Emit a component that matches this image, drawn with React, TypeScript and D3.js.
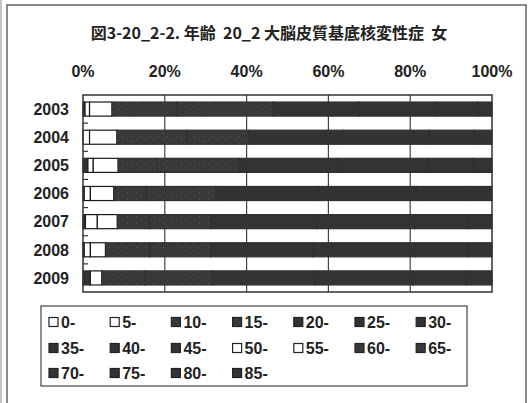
import React from "react";
import * as d3 from "d3";

const title = "図3-20_2-2. 年齢  20_2 大脳皮質基底核変性症  女";
const years = ["2003", "2004", "2005", "2006", "2007", "2008", "2009"];
const ageGroups = ["0-", "5-", "10-", "15-", "20-", "25-", "30-", "35-", "40-", "45-", "50-", "55-", "60-", "65-", "70-", "75-", "80-", "85-"];
const xTicks = [0, 0.2, 0.4, 0.6, 0.8, 1];

// percentage share per age group, one array per year (same order as ageGroups)
const v2003 = [0, 0, 0, 0, 0, 0, 0, 0, 0, 0.5, 1.1, 5.5, 15.9, 23.5, 21, 19, 10, 3.5];
const v2004 = [0, 0, 0, 0, 0, 0, 0, 0, 0, 0, 1.6, 6.7, 17.1, 15.2, 23, 21, 11, 4.4];
const v2005 = [0, 0, 0, 0, 0, 0, 0, 0, 0, 1.2, 1.3, 6.1, 9.4, 20.3, 24, 22, 11, 4.7];
const v2006 = [0, 0, 0, 0, 0, 0, 0, 0, 0, 0.3, 1.5, 5.7, 7.9, 17.1, 25, 24, 13, 5.5];
const v2007 = [0, 0, 0, 0, 0, 0, 0, 0, 0, 0.6, 2.9, 4.9, 7.9, 14.9, 26, 24, 13, 5.8];
const v2008 = [0, 0, 0, 0, 0, 0, 0, 0, 0, 0.3, 1.5, 3.7, 10.8, 14.9, 25, 25, 13, 5.8];
const v2009 = [0, 0, 0, 0, 0, 0, 0, 0, 0, 1.8, 0, 2.8, 10.5, 16.6, 25, 24, 13, 6.3];
const seriesByYear = [v2003, v2004, v2005, v2006, v2007, v2008, v2009];

// fill kind per age group: w = white, p = patterned dark, d = solid dark
const fillKinds = ["w", "w", "p", "p", "d", "d", "d", "d", "d", "d", "w", "w", "p", "p", "d", "d", "d", "d"];

const W = 528;
const H = 403;
const plot = { left: 83, right: 492, top: 95, bottom: 292 };

function fillFor(kind: string) {
  if (kind === "w") return "#ffffff";
  if (kind === "p") return "url(#speck)";
  return "#333333";
}
function strokeFor(kind: string) {
  return kind === "w" ? "#1a1a1a" : "#303030";
}

export default function App() {
  const rows = years.map((y, i) => {
    const o: any = { year: y };
    ageGroups.forEach((g, j) => (o[g] = seriesByYear[i][j]));
    return o;
  });
  const stack = d3.stack<any>().keys(ageGroups).offset(d3.stackOffsetExpand);
  const layers = stack(rows);

  const x = d3.scaleLinear().domain([0, 1]).range([plot.left, plot.right]);
  const y = d3.scaleBand<string>().domain(years).range([plot.top, plot.bottom]).paddingInner(0.5).paddingOuter(0.25);
  const step = y.step();

  const legendCols = 7;
  const legX0 = 49;
  const legColW = 61.2;
  const legRowY = [322, 348, 373];

  const numFont = "'Liberation Sans', Arial, sans-serif";

  return (
    <svg width={W} height={H} style={{ position: "absolute", left: 0, top: 0 }} xmlns="http://www.w3.org/2000/svg">
      <defs>
        <pattern id="speck" width="9" height="6" patternUnits="userSpaceOnUse">
          <rect width="9" height="6" fill="#383838" />
          <rect x="1" y="1" width="1" height="1" fill="#565656" />
          <rect x="5" y="4" width="1" height="1" fill="#4e4e4e" />
        </pattern>
      </defs>
      <rect x={0} y={0} width={W} height={H} fill="#fff" />
      {/* outer frame */}
      <line x1={1} y1={0} x2={1} y2={H} stroke="#888" strokeWidth={1} />
      <rect x={7} y={5} width={519} height={410} fill="none" stroke="#666" strokeWidth={1.5} />

      {/* title */}
      <text x={269} y={39} textAnchor="middle" fontFamily="'Noto Sans CJK JP', sans-serif" fontWeight="bold" fontSize={16} fill="#222" style={{ whiteSpace: "pre" }}>
        {title}
      </text>

      {/* top axis labels */}
      {xTicks.map((t) => (
        <text key={t} x={x(t)} y={77} textAnchor="middle" fontFamily={numFont} fontWeight="bold" fontSize={16} fill="#222">
          {d3.format(".0%")(t)}
        </text>
      ))}

      {/* plot background */}
      <rect x={plot.left} y={plot.top} width={plot.right - plot.left} height={plot.bottom - plot.top} fill="#fff" />
      {/* gridlines */}
      {xTicks.slice(1, -1).map((t) => (
        <line key={t} x1={x(t)} x2={x(t)} y1={plot.top} y2={plot.bottom} stroke="#444" strokeWidth={1.2} />
      ))}

      {/* bars */}
      {layers.map((layer, li) => (
        <g key={layer.key}>
          {layer.map((d: any, i: number) => {
            const w = x(d[1]) - x(d[0]);
            if (w <= 0) return null;
            return (
              <rect
                key={i}
                x={x(d[0])}
                y={y(years[i])}
                width={w}
                height={y.bandwidth()}
                fill={fillFor(fillKinds[li])}
                stroke={strokeFor(fillKinds[li])}
                strokeWidth={1.2}
              />
            );
          })}
        </g>
      ))}

      {/* plot border */}
      <rect x={plot.left} y={plot.top} width={plot.right - plot.left} height={plot.bottom - plot.top} fill="none" stroke="#333" strokeWidth={1.5} />
      {/* category ticks (inside) */}
      {years.slice(1).map((yr) => {
        const yy = (y(yr) as number) - step * 0.25;
        return <line key={yr} x1={plot.left} x2={plot.left + 5} y1={yy} y2={yy} stroke="#333" strokeWidth={1.2} />;
      })}

      {/* year labels */}
      {years.map((yr) => (
        <text key={yr} x={69} y={(y(yr) as number) + y.bandwidth() / 2} dy="0.36em" textAnchor="end" fontFamily={numFont} fontWeight="bold" fontSize={16} fill="#222">
          {yr}
        </text>
      ))}

      {/* legend */}
      <rect x={41} y={306} width={426} height={80} fill="#fff" stroke="#444" strokeWidth={1.2} />
      {ageGroups.map((g, i) => {
        const col = i % legendCols;
        const row = Math.floor(i / legendCols);
        const lx = legX0 + col * legColW;
        const ly = legRowY[row];
        return (
          <g key={g}>
            <rect x={lx} y={ly - 4.5} width={9} height={9} fill={fillFor(fillKinds[i])} stroke="#222" strokeWidth={1.2} />
            <text x={lx + 12} y={ly} dy="0.36em" fontFamily={numFont} fontWeight="bold" fontSize={16} fill="#222">
              {g}
            </text>
          </g>
        );
      })}
    </svg>
  );
}
